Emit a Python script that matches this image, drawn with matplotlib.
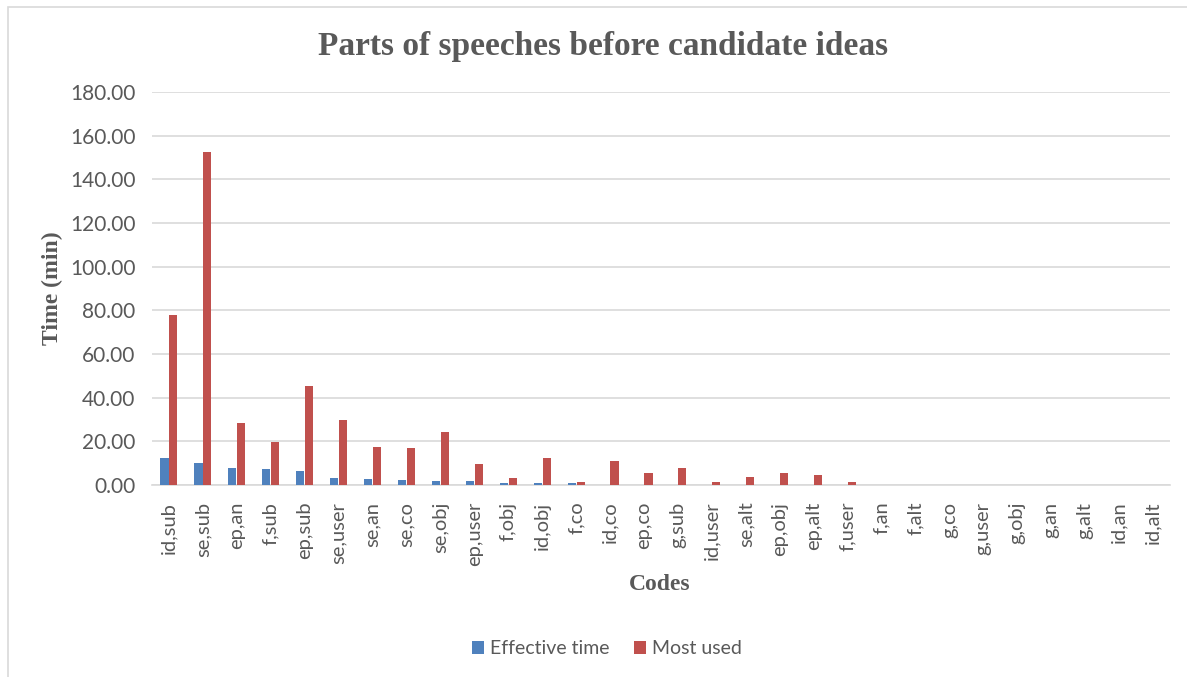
import numpy as np
import matplotlib.pyplot as plt
from matplotlib.patches import Rectangle

# Codes and time spent (min) for each series
codes = ['id,sub', 'se,sub', 'ep,an', 'f,sub', 'ep,sub', 'se,user', 'se,an', 'se,co',
         'se,obj', 'ep,user', 'f,obj', 'id,obj', 'f,co', 'id,co', 'ep,co', 'g,sub',
         'id,user', 'se,alt', 'ep,obj', 'ep,alt', 'f,user', 'f,an', 'f,alt', 'g,co',
         'g,user', 'g,obj', 'g,an', 'g,alt', 'id,an', 'id,alt']
effective_time = [12.2, 10.1, 8.0, 7.3, 6.4, 3.2, 2.7, 2.3, 1.7, 1.7, 1.0, 1.0, 0.8, 0.0,
                  0.0, 0.0, 0.0, 0.0, 0.0, 0.0, 0.0, 0.0, 0.0, 0.0, 0.0, 0.0, 0.0, 0.0,
                  0.0, 0.0]
most_used = [78.0, 152.5, 28.5, 19.5, 45.5, 30.0, 17.5, 17.0, 24.5, 9.5, 3.0, 12.2, 1.6,
             11.0, 5.4, 8.0, 1.6, 3.6, 5.4, 4.4, 1.6, 0.0, 0.0, 0.0, 0.0, 0.0, 0.0, 0.0,
             0.0, 0.0]
yticks = np.arange(0, 181, 20)

blue = '#4F81BD'
red = '#C0504D'
grey_text = '#595959'
grid_col = '#D9D9D9'

fig = plt.figure(figsize=(11.87, 6.77), dpi=100)
fig.patches.append(Rectangle((8 / 1187, -0.01), 1.0, 1 - 7 / 677 + 0.01,
                             transform=fig.transFigure, fill=False,
                             edgecolor='#D9D9D9', linewidth=1.2))

ax = fig.add_axes([152 / 1187, (677 - 485) / 677, (1170 - 152) / 1187, (485 - 92) / 677])
x = np.arange(len(codes))
w = 0.24
ax.bar(x - 0.13, effective_time, w, color=blue, label='Effective time', zorder=3)
ax.bar(x + 0.13, most_used, w, color=red, label='Most used', zorder=3)

ax.set_xlim(-0.5, len(codes) - 0.5)
ax.set_ylim(0, 180)
ax.set_yticks(yticks)
ax.set_yticklabels([f'{v:.2f}' for v in yticks], fontsize=15, color=grey_text,
                   family='Lato')
ax.set_xticks(x)
ax.set_xticklabels(codes, rotation=90, fontsize=14.5, color=grey_text, family='Lato')
ax.tick_params(length=0, axis='both')
ax.tick_params(axis='y', pad=12)
ax.tick_params(axis='x', pad=12)
ax.yaxis.grid(True, color=grid_col, linewidth=1.2, zorder=0)
for s in ['top', 'right', 'left']:
    ax.spines[s].set_visible(False)
ax.spines['bottom'].set_color(grid_col)
ax.spines['bottom'].set_linewidth(1.2)

fig.text(603 / 1187, 1 - 46 / 677, 'Parts of speeches before candidate ideas',
         ha='center', va='center', fontsize=24, fontweight='bold',
         family='Liberation Serif', color=grey_text)
fig.text(52 / 1187, 1 - 288 / 677, 'Time (min)', rotation=90, ha='center', va='center',
         fontsize=17, fontweight='bold', family='Liberation Serif', color=grey_text)
fig.text(660 / 1187, 1 - 585 / 677, 'Codes', ha='center', va='center',
         fontsize=17, fontweight='bold', family='Liberation Serif', color=grey_text)

leg = fig.legend(loc='center', bbox_to_anchor=(607 / 1187, 1 - 649 / 677), ncol=2,
                 frameon=False, prop={'family': 'Lato', 'size': 14},
                 handlelength=0.6, handleheight=0.6, handletextpad=0.3,
                 columnspacing=1.3)
for t in leg.get_texts():
    t.set_color(grey_text)

fig.savefig('out.png', dpi=100)
